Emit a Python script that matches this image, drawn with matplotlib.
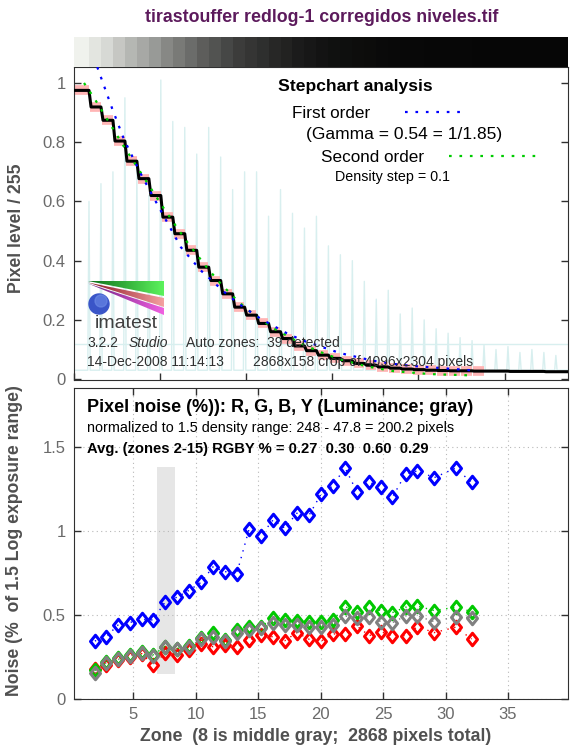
import numpy as np
import matplotlib
matplotlib.use("Agg")
import matplotlib.pyplot as plt
from matplotlib.patches import Polygon, Circle, Rectangle
from matplotlib.lines import Line2D
from matplotlib.path import Path
from matplotlib.colors import LinearSegmentedColormap

plt.rcParams['font.family'] = ['Liberation Sans', 'DejaVu Sans']

W, H = 572, 751

# ---- stepchart: 41 zones along the 2868 pixel crop
crop_width = 2868
first_zone_end = 87
zone_pitch = 69.5
zone_levels = [0.975, 0.919, 0.874, 0.804, 0.736, 0.677, 0.620, 0.547, 0.491, 0.435,
               0.378, 0.333, 0.288, 0.243, 0.216, 0.188, 0.160, 0.137, 0.112, 0.096,
               0.081, 0.070, 0.062, 0.053, 0.047, 0.041, 0.037, 0.034, 0.032, 0.030,
               0.029, 0.028, 0.028, 0.027, 0.027, 0.027, 0.026, 0.026, 0.026, 0.025, 0.025]
n_analyzed = 34
# derivative spikes at zone boundaries (light cyan trace)
spike_heights = [0.60, 0.66, 0.70, 0.95, 0.72, 0.62, 1.01, 0.87, 0.85, 0.76,
                 0.85, 0.75, 0.64, 0.70, 0.70, 0.55, 0.64, 0.56, 0.51, 0.55,
                 0.45, 0.42, 0.40, 0.33, 0.27, 0.30, 0.22, 0.24, 0.20, 0.17,
                 0.155, 0.14, 0.13, 0.115, 0.10, 0.11, 0.09, 0.10, 0.09, 0.08]
spike_base = 0.03
threshold_level = 0.12
# first order fit (blue) and second order fit (green)
fit1_px = [93, 135, 222, 290, 387, 465, 620, 736, 890, 968, 1080, 1235, 1330, 1544, 1736, 1845, 1951, 2299]
fit1_level = [1.12, 1.054, 0.913, 0.81, 0.694, 0.61, 0.446, 0.367, 0.285, 0.25, 0.205, 0.155, 0.13,
              0.088, 0.062, 0.052, 0.045, 0.03]
fit2_px = [58, 116, 174, 232, 290, 368, 445, 523, 600, 658, 774, 852, 948, 1022, 1157, 1312,
           1428, 1544, 1699, 1854, 2067, 2282]
fit2_level = [1.0, 0.95, 0.895, 0.84, 0.785, 0.715, 0.645, 0.575, 0.51, 0.462, 0.375, 0.322,
              0.265, 0.228, 0.172, 0.122, 0.092, 0.067, 0.043, 0.027, 0.017, 0.013]
gamma = 0.54
density_step = 0.1

# ---- noise per zone (% of 1.5 log exposure range)
zone_pos = [1.95, 2.85, 3.8, 4.75, 5.7, 6.6, 7.55, 8.5, 9.45, 10.45, 11.4, 12.35, 13.3, 14.3,
            15.25, 16.2, 17.15, 18.1, 19.1, 20.05, 21.0, 21.95, 22.9, 23.9, 24.85, 25.75,
            26.8, 27.75, 29.1, 30.8, 32.1]
noise_r = [0.177, 0.20, 0.23, 0.25, 0.27, 0.202, 0.272, 0.262, 0.29, 0.327, 0.311, 0.32, 0.31,
           0.35, 0.38, 0.37, 0.347, 0.395, 0.355, 0.345, 0.387, 0.387, 0.435, 0.377, 0.40,
           0.377, 0.377, 0.43, 0.395, 0.427, 0.357]
noise_g = [0.17, 0.222, 0.242, 0.262, 0.282, 0.262, 0.311, 0.30, 0.317, 0.361, 0.39, 0.35, 0.41,
           0.43, 0.43, 0.484, 0.47, 0.464, 0.46, 0.46, 0.47, 0.55, 0.52, 0.546, 0.526, 0.514,
           0.546, 0.553, 0.526, 0.546, 0.52]
noise_b = [0.345, 0.37, 0.44, 0.455, 0.474, 0.47, 0.575, 0.605, 0.645, 0.694, 0.786, 0.758,
           0.746, 1.014, 0.972, 1.065, 1.016, 1.105, 1.095, 1.22, 1.268, 1.377, 1.234, 1.288,
           1.264, 1.20, 1.339, 1.357, 1.317, 1.373, 1.288]
noise_y = [0.153, 0.215, 0.235, 0.255, 0.275, 0.255, 0.31, 0.295, 0.31, 0.355, 0.37, 0.345,
           0.39, 0.41, 0.42, 0.45, 0.44, 0.44, 0.43, 0.43, 0.44, 0.494, 0.48, 0.49, 0.46,
           0.454, 0.494, 0.494, 0.46, 0.49, 0.484]
avg_rgby = [0.27, 0.30, 0.60, 0.29]
middle_zone_band = (6.95, 8.35)
middle_band_noise = (0.15, 1.38)


def fx(x):
    return x / W


def fy(y):
    return 1 - y / H


TICK_GRAY = '#6a6a6a'
LABEL_GRAY = '#505050'
SPINE = '#303030'

fig = plt.figure(figsize=(W / 100, H / 100), dpi=100)

# ---------------- top: stepchart
ax1 = fig.add_axes([fx(74), fy(380), 494 / W, 313 / H])
edges = np.concatenate([[0], first_zone_end + zone_pitch * np.arange(len(zone_levels) - 1), [crop_width]])

# cyan derivative trace
sx, sy = [0], [spike_base]
for b, h in zip(edges[1:-1], spike_heights):
    sx += [b - 7, b, b + 7]
    sy += [spike_base, h, spike_base]
sx.append(crop_width)
sy.append(spike_base)
ax1.plot(sx, sy, color='#d8efef', lw=1, zorder=1)
ax1.axhline(threshold_level, color='#d8efef', lw=1, zorder=1)

# pink zone segments
for i in range(n_analyzed):
    l, r = edges[i], edges[i + 1]
    w = r - l
    ax1.plot([l + 0.1 * w, r - 0.02 * w], [zone_levels[i]] * 2, color='#ffb5b5',
             lw=7, solid_capstyle='butt', zorder=2)

# black profile
px, py = [], []
for i, lv in enumerate(zone_levels):
    l, r = edges[i], edges[i + 1]
    px += [l + (12 if i else 0), r]
    py += [lv, lv]
ax1.plot(px, py, color='black', lw=2.2, zorder=3)

ax1.plot(fit2_px, fit2_level, color='#00cc00', lw=1.6, ls=(0, (1.2, 3.5)), zorder=4)
ax1.plot(fit1_px, fit1_level, color='#0000ff', lw=1.6, ls=(0, (1.2, 3.5)), zorder=4)

ax1.set_xlim(0, crop_width)
ax1.set_ylim(-0.003, 1.054)
ax1.set_xticks(np.arange(0, crop_width, 500))
ax1.set_xticklabels([])
ax1.set_yticks([0, 0.2, 0.4, 0.6, 0.8, 1.0])
ax1.set_yticklabels(['0', '0.2', '0.4', '0.6', '0.8', '1'])
ax1.tick_params(direction='in', right=True, length=5, width=1, color=SPINE,
                labelcolor=TICK_GRAY, labelsize=12, pad=6)
for s in ax1.spines.values():
    s.set_color(SPINE)
ax1.set_ylabel('Pixel level / 255', fontsize=12.7, fontweight='bold', color=LABEL_GRAY)
ax1.yaxis.set_label_coords(-0.099, 0.486)

# gray strip of the stepchart image
ax0 = fig.add_axes([fx(74), fy(67), 494 / W, 30 / H])
strip_cmap = LinearSegmentedColormap.from_list('strip', ['#000000', '#f6f8f3'])
ax0.pcolormesh(edges, [0, 1], np.array(zone_levels)[None, :], cmap=strip_cmap, vmin=0, vmax=1)
ax0.set_xlim(0, crop_width)
ax0.axis('off')

# analysis text
fig.text(fx(322), fy(18), 'tirastouffer redlog-1 corregidos niveles.tif', ha='center', va='center',
         fontsize=12.8, fontweight='bold', color='#5c1a5c')
fig.text(fx(278), fy(86), 'Stepchart analysis', va='center', fontsize=12.6, fontweight='bold')
fig.text(fx(292), fy(113), 'First order', va='center', fontsize=12.3)
fig.add_artist(Line2D([fx(405), fx(460)], [fy(112), fy(112)], color='#0000ff', lw=1.6,
                      ls=(0, (1.2, 3.5)), transform=fig.transFigure))
fig.text(fx(306), fy(135), '(Gamma = %.2f = 1/%.2f)' % (gamma, 1 / gamma), va='center', fontsize=12.5)
fig.text(fx(321), fy(157), 'Second order', va='center', fontsize=12.3)
fig.add_artist(Line2D([fx(449), fx(538)], [fy(156), fy(156)], color='#00cc00', lw=1.6,
                      ls=(0, (1.2, 3.5)), transform=fig.transFigure))
fig.text(fx(335), fy(177), 'Density step = %g' % density_step, va='center', fontsize=10.3)

fig.text(fx(87), fy(343), '3.2.2', va='center', fontsize=10, color='#303030')
fig.text(fx(129), fy(343), 'Studio', va='center', fontsize=10, style='italic', color='#303030')
fig.text(fx(186), fy(343), 'Auto zones:  39 detected', va='center', fontsize=10, color='#303030')
fig.text(fx(87), fy(362), '14-Dec-2008 11:14:13', va='center', fontsize=10, color='#303030')
fig.text(fx(253), fy(362), '2868x158 crop of 4096x2304 pixels', va='center', fontsize=10, color='#303030')

# imatest logo
lg = fig.add_axes([fx(86), fy(334), 80 / W, 56 / H])
grad = np.linspace(0, 1, 64)[None, :]
for verts, cols in [([(2, 3.5), (78, 3.5), (78, 18.5)], ['#0d6e1a', '#5cf25c']),
                    ([(2, 4.5), (78, 20), (78, 29)], ['#8a1020', '#f4a0a0']),
                    ([(2, 5.5), (78, 30), (78, 37)], ['#6a2080', '#f060e0'])]:
    poly = Polygon(verts, closed=True, facecolor='none', edgecolor='none')
    lg.add_patch(poly)
    im = lg.imshow(grad, extent=(2, 78, 40, 0), cmap=LinearSegmentedColormap.from_list('g', cols),
                   aspect='auto')
    im.set_clip_path(poly)
lg.add_patch(Circle((13, 26), 10, color='#3a55c8'))
lg.add_patch(Circle((15, 23), 6, color='#6f8de8', alpha=0.6))
lg.text(40, 46, 'imatest', ha='center', va='center', fontsize=14, color='#404040')
lg.set_xlim(0, 80)
lg.set_ylim(56, 0)
lg.axis('off')

# ---------------- bottom: noise
ax2 = fig.add_axes([fx(74), fy(699), 494 / W, 311 / H])
ax2.add_patch(Rectangle((middle_zone_band[0], middle_band_noise[0]),
                        middle_zone_band[1] - middle_zone_band[0],
                        middle_band_noise[1] - middle_band_noise[0],
                        facecolor='#e6e6e6', edgecolor='none', zorder=0))
ax2.grid(True, ls=(0, (1, 3)), color='#b8b8b8', lw=0.8)
ax2.set_axisbelow(True)

diamond = Path([(0, 1), (0.8, 0), (0, -1), (-0.8, 0), (0, 1)],
               [Path.MOVETO, Path.LINETO, Path.LINETO, Path.LINETO, Path.CLOSEPOLY])
for vals, col in [(noise_r, '#ff0000'), (noise_g, '#00c800'), (noise_b, '#0000ff'), (noise_y, '#808080')]:
    ax2.plot(zone_pos, vals, color=col, lw=1, ls=(0, (1, 4)), marker=diamond, ms=9,
             mfc='none', mec=col, mew=2.2, zorder=3)

ax2.set_xlim(0.28, 39.8)
ax2.set_ylim(0, 1.85)
ax2.set_xticks([5, 10, 15, 20, 25, 30, 35])
ax2.set_yticks([0, 0.5, 1.0, 1.5])
ax2.set_yticklabels(['0', '0.5', '1', '1.5'])
ax2.tick_params(direction='in', top=True, right=True, length=5, width=1, color=SPINE,
                labelcolor=TICK_GRAY, labelsize=12, pad=6)
for s in ax2.spines.values():
    s.set_color(SPINE)
ax2.set_ylabel('Noise (%  of 1.5 Log exposure range)', fontsize=12.7, fontweight='bold', color=LABEL_GRAY)
ax2.yaxis.set_label_coords(-0.103, 0.508)
ax2.set_xlabel('Zone  (8 is middle gray;  2868 pixels total)', fontsize=12.8, fontweight='bold',
               color=LABEL_GRAY)
ax2.xaxis.set_label_coords(0.49, -0.094)

fig.text(fx(87), fy(407), 'Pixel noise (%)): R, G, B, Y (Luminance; gray)', va='center',
         fontsize=13, fontweight='bold')
fig.text(fx(87), fy(428), 'normalized to 1.5 density range: 248 - 47.8 = 200.2 pixels', va='center',
         fontsize=10.4)
fig.text(fx(87), fy(449), 'Avg. (zones 2-15) RGBY % = ' + '  '.join('%.2f' % v for v in avg_rgby),
         va='center', fontsize=10.6, fontweight='bold')

fig.savefig('out.png', dpi=100)
